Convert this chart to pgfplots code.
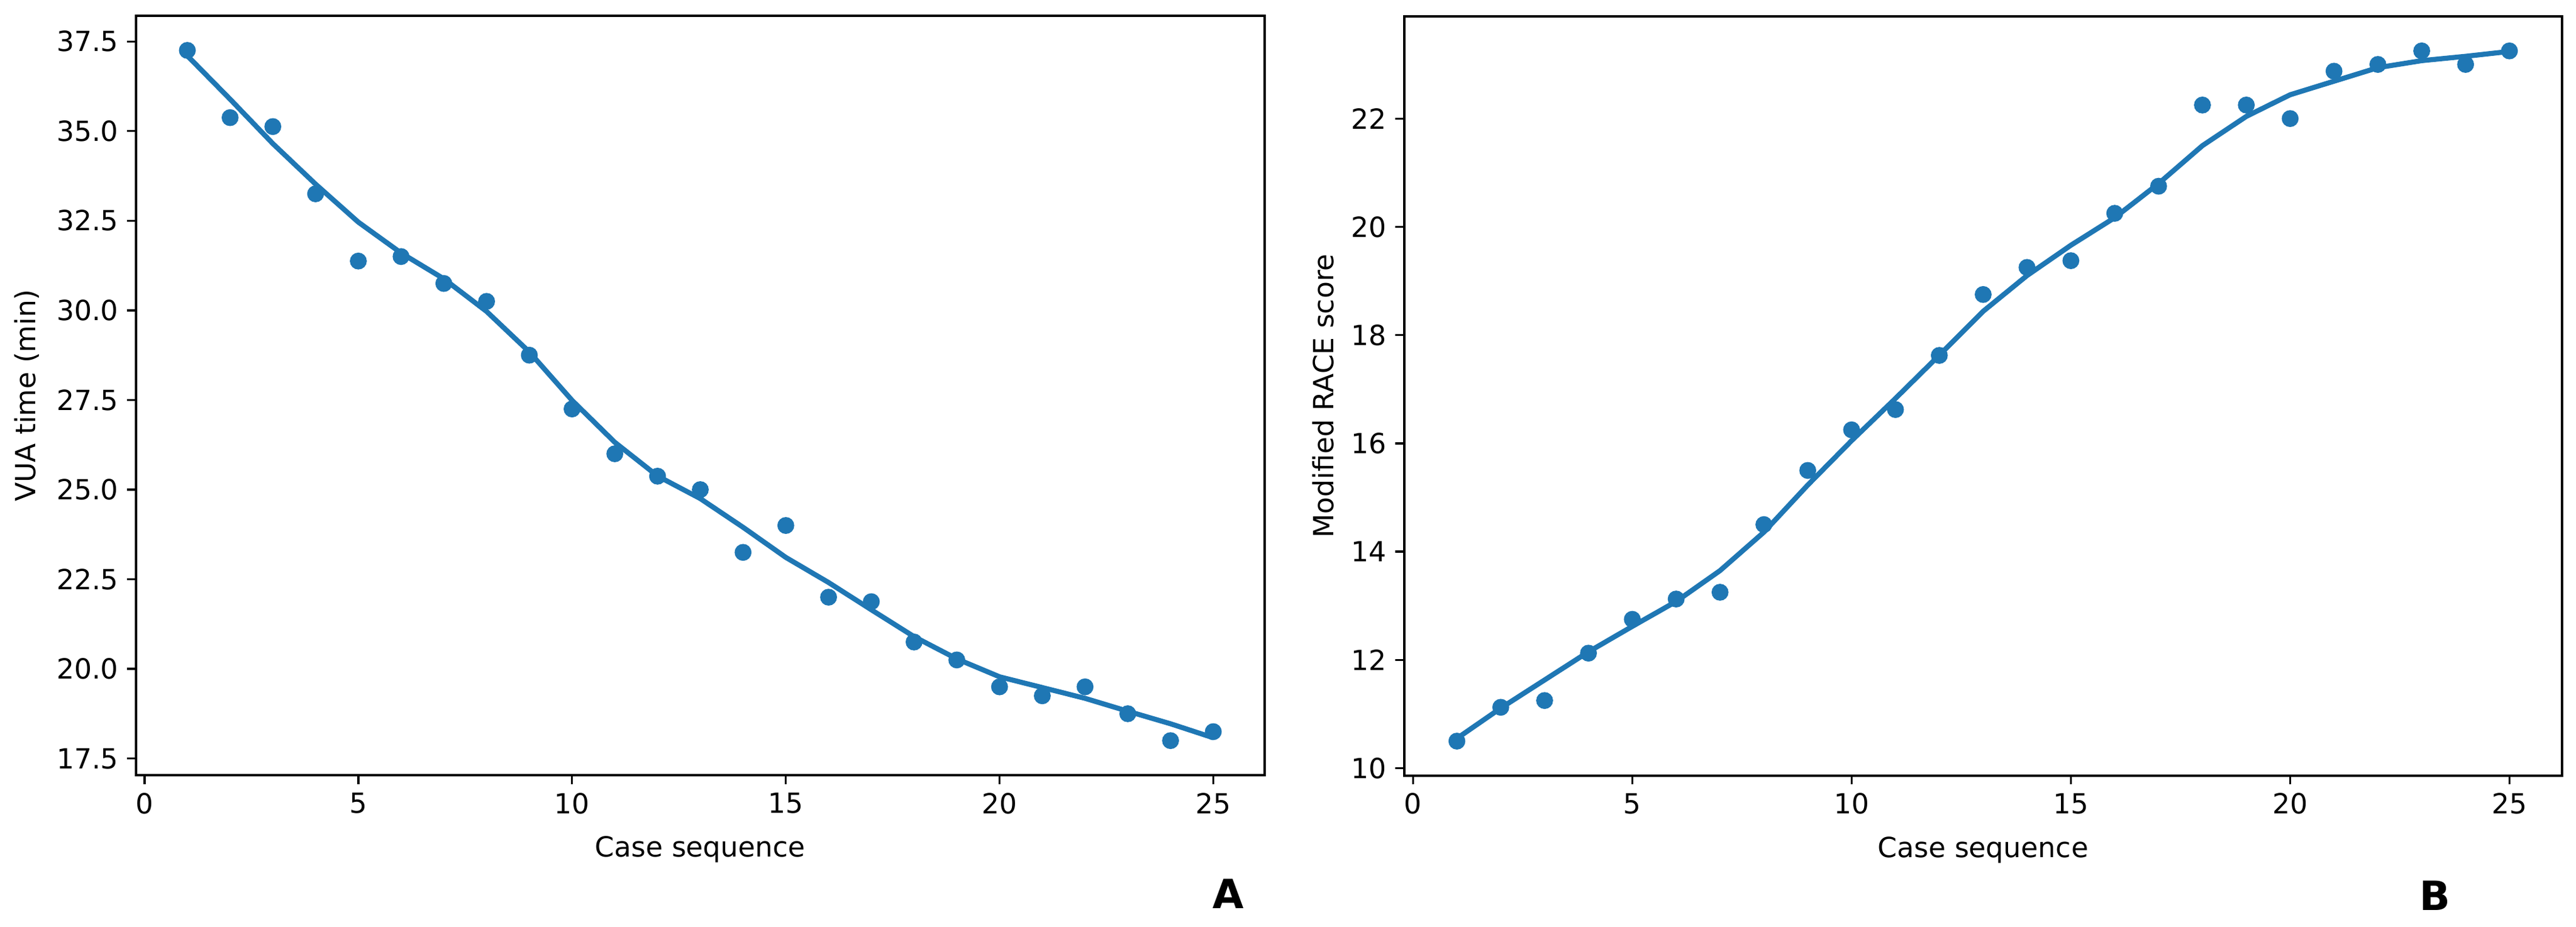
\documentclass[border=0pt]{standalone}
\usepackage{fontspec}
\setmainfont{DejaVu Sans}
\usepackage{pgfplots}
\usepackage{pgfplotstable}
\pgfplotsset{compat=1.18}
\definecolor{tabblue}{HTML}{1F77B4}

\pgfplotstableread{
x y
1 37.25
2 35.375
3 35.125
4 33.25
5 31.375
6 31.5
7 30.75
8 30.25
9 28.75
10 27.25
11 26.0
12 25.375
13 25.0
14 23.25
15 24.0
16 22.0
17 21.875
18 20.75
19 20.25
20 19.5
21 19.25
22 19.5
23 18.75
24 18.0
25 18.25
}\ptsA

\pgfplotstableread{
x y
1 37.10
2 35.89
3 34.65
4 33.52
5 32.46
6 31.60
7 30.88
8 29.97
9 28.84
10 27.49
11 26.32
12 25.38
13 24.75
14 23.95
15 23.11
16 22.41
17 21.65
18 20.90
19 20.28
20 19.78
21 19.48
22 19.18
23 18.82
24 18.47
25 18.08
}\lineA

\pgfplotstableread{
x y
1 10.5
2 11.125
3 11.25
4 12.125
5 12.75
6 13.125
7 13.25
8 14.5
9 15.5
10 16.25
11 16.625
12 17.625
13 18.75
14 19.25
15 19.375
16 20.25
17 20.75
18 22.25
19 22.25
20 22.0
21 22.875
22 23.0
23 23.25
24 23.0
25 23.25
}\ptsB

\pgfplotstableread{
x y
1 10.55
2 11.11
3 11.63
4 12.15
5 12.62
6 13.08
7 13.65
8 14.36
9 15.23
10 16.05
11 16.83
12 17.63
13 18.44
14 19.10
15 19.66
16 20.17
17 20.80
18 21.50
19 22.04
20 22.44
21 22.69
22 22.94
23 23.07
24 23.15
25 23.24
}\lineB

\pgfplotsset{
  myaxis/.style={
    scale only axis,
    anchor=south west,
    xmin=-0.2, xmax=26.2,
    xtick={0,5,10,15,20,25},
    xtick pos=bottom, ytick pos=left,
    tick align=outside,
    major tick length=3.5pt,
    every tick/.style={black, line width=0.8pt},
    axis line style={line width=0.8pt},
    axis lines*=box,
    /pgf/number format/assume math mode=true,
    tick label style={font=\fontsize{11}{13}\selectfont},
    label style={font=\fontsize{11}{13}\selectfont},
    xlabel style={yshift=-2pt},
    xlabel={Case sequence},
    clip=false,
  },
}

\begin{document}
\begin{tikzpicture}[x=1pt,y=1pt]
\path (0,0) rectangle (1021.7,367.6);
\begin{axis}[myaxis,
  at={(53.96pt,60.2pt)}, width=447.6pt, height=301.1pt,
  ymin=17.0375, ymax=38.2125,
  ytick={17.5,20,22.5,25,27.5,30,32.5,35,37.5},
  yticklabel style={/pgf/number format/.cd, fixed, fixed zerofill, precision=1},
  ylabel={VUA time (min)},
]
\addplot[tabblue, line width=2pt, no marks] table[x=x,y=y] {\lineA};
\addplot[only marks, mark=*, mark size=3.15pt, color=tabblue, mark options={draw=tabblue, fill=tabblue}] table[x=x,y=y] {\ptsA};
\end{axis}
\begin{axis}[myaxis,
  at={(556.96pt,60.0pt)}, width=459.2pt, height=301.1pt,
  ymin=9.8625, ymax=23.8875,
  ytick={10,12,14,16,18,20,22},
  ylabel={Modified RACE score},
]
\addplot[tabblue, line width=2pt, no marks] table[x=x,y=y] {\lineB};
\addplot[only marks, mark=*, mark size=3.15pt, color=tabblue, mark options={draw=tabblue, fill=tabblue}] table[x=x,y=y] {\ptsB};
\end{axis}
\node[font=\fontsize{16}{19}\selectfont\bfseries, inner sep=0pt] at (487.1,13.25) {A};
\node[font=\fontsize{16}{19}\selectfont\bfseries, inner sep=0pt] at (965.8,12.5) {B};
\end{tikzpicture}
\end{document}
